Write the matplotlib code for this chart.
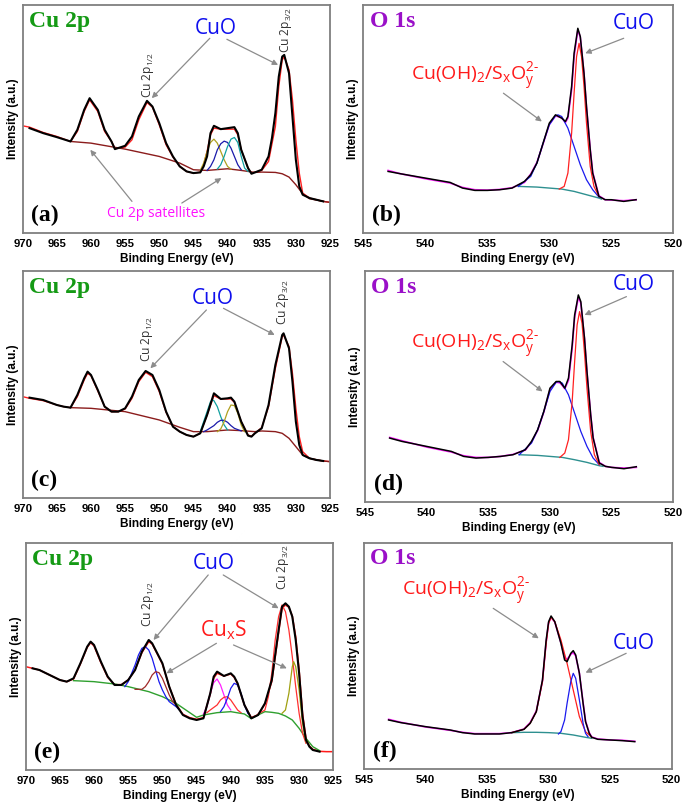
import matplotlib
matplotlib.use("Agg")
import matplotlib.pyplot as plt

plt.rcParams['mathtext.fontset'] = 'custom'
plt.rcParams['mathtext.rm'] = 'Open Sans'

# ---------------- data (intensity in arbitrary units) ----------------
# panel (a) Cu 2p
a_E = [969, 967, 965, 963, 962, 961, 960.2, 959, 958, 957, 956.5, 955, 954, 953, 951.8, 951, 950, 949,
       948, 947, 946, 945, 944, 943.5, 943, 942.5, 942, 941, 940, 939, 938.5, 938, 937, 936.5, 935, 934,
       933.5, 933, 932.5, 932, 931.7, 931, 930.5, 930, 929.5, 929, 928, 927, 926]
a_meas = [315, 300, 288, 275, 310, 370, 405, 370, 310, 275, 252, 262, 290, 350, 397, 380, 330, 270,
          230, 200, 185, 180, 182, 200, 230, 300, 322, 312, 315, 318, 300, 250, 195, 178, 190, 230,
          285, 360, 470, 530, 535, 480, 350, 220, 140, 115, 105, 100, 95]
a_fitE = [970, 969, 967, 965, 963, 962, 961, 960.2, 959, 958, 957, 956.5, 955, 954, 953, 951.8, 951, 950,
          949, 948, 947, 946, 945, 944, 943.5, 943, 942.5, 942, 941, 940, 939, 938.5, 938, 937, 936.5,
          935, 934, 933, 932.5, 932, 931.7, 931, 930.5, 930, 929.5, 929, 928, 927, 926, 925]
a_fit = [322, 318, 302, 290, 275, 305, 365, 400, 365, 305, 275, 255, 258, 280, 340, 392, 378, 325,
         265, 228, 200, 185, 180, 183, 205, 245, 295, 315, 312, 312, 312, 295, 250, 195, 180,
         188, 215, 320, 440, 520, 530, 490, 400, 280, 180, 120, 105, 100, 95, 92]
a_bgE = [963, 960, 955, 950, 947, 945, 943, 940, 938, 936, 935, 933, 932, 931, 930, 929, 928, 926, 925]
a_bg = [275, 270, 252, 230, 210, 190, 188, 193, 188, 182, 183, 182, 178, 168, 145, 118, 103, 95, 92]
a_olE = [944, 943.5, 943, 942.5, 942, 941.5, 941, 940.5, 940, 939.5]
a_ol = [188, 210, 245, 272, 282, 270, 245, 220, 200, 192]
a_blE = [943, 942.5, 942, 941.5, 941, 940.5, 940, 939.5, 939, 938.5, 938]
a_bl = [188, 200, 220, 250, 268, 276, 272, 255, 230, 205, 190]
a_teE = [941.5, 941, 940.5, 940, 939.5, 939, 938.5, 938, 937.5, 937]
a_te = [192, 205, 230, 260, 282, 287, 272, 230, 195, 185]

# panel (b) O 1s
b_E = [543, 542, 540, 538, 537, 536, 535, 534, 533, 532, 531.5, 531, 530.5, 530, 529.5, 529, 528.7,
       528.5, 528.2, 528, 527.7, 527.5, 527.2, 527, 526.7, 526.5, 526, 525.5, 525, 524, 523]
b_meas = [185, 178, 165, 152, 135, 128, 128, 130, 135, 155, 175, 210, 270, 330, 355, 345, 335,
          350, 440, 540, 615, 590, 480, 380, 250, 180, 110, 100, 100, 95, 100]
b_fit = [188, 178, 163, 150, 137, 130, 129, 131, 136, 152, 177, 212, 268, 326, 352, 346, 332,
         345, 430, 530, 610, 588, 478, 378, 252, 182, 112, 100, 99, 97, 100]
b_bgE = [532.5, 531, 530, 529, 528, 527, 526, 525.8]
b_bg = [140, 138, 135, 132, 125, 115, 105, 102]
b_blE = [532.5, 531.5, 531, 530.5, 530, 529.5, 529.3, 529, 528.5, 528, 527.5, 527, 526.5, 526]
b_bl = [140, 170, 210, 270, 325, 352, 355, 350, 315, 260, 205, 160, 130, 108]
b_rdE = [529.2, 528.8, 528.5, 528.2, 528, 527.8, 527.6, 527.4, 527.2, 527, 526.7, 526.4, 526]
b_rd = [132, 140, 180, 300, 420, 530, 570, 530, 440, 330, 200, 140, 110]

# panel (c) Cu 2p
c_E = [969, 967, 965, 964, 963, 962, 961, 960.5, 960, 959, 958, 957, 956, 955, 954, 953, 952, 951,
       950, 949, 948, 947, 946, 945, 944, 943, 942, 941, 940, 939.5, 939, 938, 937, 936.5, 936, 935,
       934, 933, 932, 931.8, 931, 930.5, 930, 929.5, 929, 928, 927, 926]
c_meas = [302, 295, 280, 275, 272, 310, 360, 380, 370, 325, 275, 260, 260, 270, 305, 355, 382, 370,
          325, 260, 215, 200, 190, 185, 195, 250, 315, 298, 300, 302, 290, 230, 188, 185, 195, 210,
          280, 400, 490, 495, 450, 350, 230, 160, 130, 120, 115, 112]
c_fitE = [970] + c_E + [925]
c_fit = [305, 300, 293, 280, 275, 272, 305, 355, 375, 368, 322, 275, 260, 260, 268, 300, 350, 378, 365,
         320, 258, 215, 200, 190, 185, 195, 250, 308, 298, 298, 298, 288, 230, 190, 186, 195, 212,
         275, 390, 485, 490, 455, 375, 270, 185, 140, 120, 115, 112, 110]
c_bgE = [963, 960, 955, 950, 947, 945, 943, 940, 938, 936, 935, 933, 932, 931, 930, 929, 928, 926, 925]
c_bg = [272, 270, 260, 235, 213, 200, 200, 205, 203, 200, 202, 200, 195, 180, 155, 130, 120, 112, 110]
c_teE = [944, 943.5, 943, 942.5, 942.2, 942, 941.5, 941, 940.5, 940]
c_te = [200, 230, 260, 290, 295, 293, 275, 245, 220, 205]
c_blE = [943.5, 943, 942, 941.5, 941, 940.5, 940, 939.5, 939, 938]
c_bl = [200, 205, 218, 228, 234, 234, 228, 218, 210, 202]
c_olE = [941.5, 941, 940.5, 940, 939.5, 939, 938.5, 938, 937.5]
c_ol = [200, 208, 230, 260, 280, 278, 255, 220, 200]

# panel (d) O 1s
d_E = [543, 542, 540, 538, 537, 536, 535, 534, 533, 532, 531.5, 531, 530.5, 530, 529.5, 529.2, 529,
       528.8, 528.5, 528.2, 528, 527.7, 527.5, 527.2, 527, 526.7, 526.5, 526, 525.5, 525, 524, 523]
d_meas = [192, 182, 167, 152, 137, 132, 134, 137, 142, 157, 182, 217, 272, 342, 362, 362, 352,
          342, 372, 472, 562, 622, 602, 492, 392, 262, 192, 117, 107, 104, 100, 106]
d_fit = [194, 184, 165, 150, 139, 134, 134, 137, 143, 156, 180, 215, 270, 338, 360, 358, 350,
         340, 365, 462, 555, 615, 598, 490, 390, 262, 194, 119, 107, 104, 102, 104]
d_bgE = [532.5, 531, 530, 529, 528, 527, 526, 525.7]
d_bg = [142, 140, 137, 134, 127, 119, 109, 107]
d_blE = [532.5, 531.5, 531, 530.5, 530, 529.5, 529.3, 529, 528.5, 528, 527.5, 527, 526.5, 526]
d_bl = [142, 177, 217, 272, 332, 360, 362, 357, 322, 267, 212, 167, 132, 112]
d_rdE = [529.2, 528.8, 528.5, 528.2, 528, 527.8, 527.6, 527.4, 527.2, 527, 526.7, 526.4, 526]
d_rd = [134, 147, 187, 302, 422, 532, 572, 537, 447, 342, 212, 142, 112]

# panel (e) Cu 2p
e_E = [969, 968, 967, 966, 965, 964, 963, 962, 961, 960.5, 960, 959, 958, 957, 956, 955, 954, 953,
       952, 951.5, 951, 950, 949, 948, 947, 946, 945, 944, 943, 942.5, 942, 941, 940, 939.5, 939,
       938, 937, 936, 935, 934, 933, 932.5, 932, 931.5, 931, 930.5, 930, 929.5, 929, 928.5, 928, 927]
e_meas = [305, 300, 290, 280, 270, 265, 275, 320, 370, 385, 375, 325, 280, 255, 255, 270, 300, 355,
          390, 380, 360, 320, 250, 195, 165, 155, 150, 155, 230, 280, 295, 282, 290, 280, 260,
          195, 155, 165, 200, 270, 420, 490, 500, 490, 460, 390, 290, 160, 90, 70, 60, 55]
e_fitE = [970] + e_E + [926, 925]
e_fit = [310, 305, 300, 290, 280, 270, 265, 273, 318, 368, 382, 372, 322, 278, 256, 256, 270, 300, 352,
         385, 378, 358, 318, 250, 197, 167, 157, 152, 157, 228, 275, 290, 282, 288, 278, 258,
         195, 157, 166, 198, 265, 412, 485, 495, 488, 462, 400, 300, 170, 95, 72, 62, 56, 55, 55]
e_bgE = [963, 960, 957, 955, 952, 950, 948, 946, 945, 944, 942, 940, 938, 937, 936, 935, 934, 933,
         932, 931, 930, 929, 928, 927]
e_bg = [268, 265, 258, 250, 235, 220, 200, 172, 158, 165, 172, 175, 168, 154, 165, 175, 173, 170,
        162, 150, 125, 95, 70, 58]
e_bl1E = [955.5, 955, 954.5, 954, 953.5, 953, 952.5, 952, 951.5, 951, 950.5, 950, 949.5, 949, 948, 947.5]
e_bl1 = [250, 265, 290, 315, 345, 365, 370, 360, 335, 300, 265, 240, 220, 205, 190, 180]
e_drE = [954, 953, 952.5, 952, 951.5, 951, 950.5, 950, 949.5, 949, 948.5, 948]
e_dr = [242, 242, 250, 265, 285, 295, 292, 275, 250, 225, 205, 195]
e_mgE = [944, 943.5, 943, 942.5, 942, 941.5, 941, 940.5, 940]
e_mg = [168, 190, 230, 262, 273, 255, 225, 195, 180]
e_rsE = [943.5, 943, 942, 941.5, 941, 940.5, 940, 939.5, 939, 938.5]
e_rs = [172, 180, 195, 210, 218, 220, 210, 195, 180, 172]
e_bl2E = [941.5, 941, 940.5, 940, 939.5, 939, 938.5, 938, 937.5]
e_bl2 = [175, 190, 215, 245, 260, 255, 230, 195, 170]
e_rmE = [936, 935, 934.5, 934, 933.5, 933, 932.5, 932, 931.5, 931, 930.5, 930, 929.5, 929]
e_rm = [168, 180, 220, 290, 390, 460, 495, 475, 420, 340, 250, 170, 110, 80]
e_olE = [932.5, 932, 931.5, 931, 930.8, 930.5, 930, 929.5, 929]
e_ol = [170, 180, 230, 310, 325, 310, 240, 140, 85]

# panel (f) O 1s
f_E = [543, 542, 540, 538, 537, 536, 535, 534, 533, 532, 531.5, 531, 530.5, 530.2, 530, 529.8, 529.5,
       529, 528.7, 528.5, 528.2, 528, 527.8, 527.5, 527.2, 527, 526.7, 526.5, 526, 525, 524, 523]
f_meas = [148, 140, 128, 118, 110, 106, 106, 106, 110, 120, 138, 173, 268, 388, 443, 460, 443,
          378, 328, 323, 348, 356, 343, 288, 198, 143, 108, 96, 90, 88, 86, 83]
f_fit = [150, 141, 127, 117, 111, 107, 107, 107, 110, 121, 140, 175, 265, 382, 440, 456, 442,
         380, 335, 330, 345, 350, 340, 288, 200, 145, 110, 97, 91, 88, 87, 84]
f_bgE = [533, 532, 531, 530, 529, 528, 527, 526.5]
f_bg = [110, 111, 111, 110, 108, 103, 96, 93]
f_rdE = [533, 532, 531.5, 531, 530.5, 530.2, 530, 529.8, 529.5, 529, 528.5, 528, 527.5, 527, 526.5]
f_rd = [110, 120, 138, 173, 263, 378, 438, 456, 443, 388, 318, 238, 158, 113, 96]
f_blE = [529.2, 529, 528.7, 528.5, 528.2, 528, 527.8, 527.5, 527.2, 527, 526.8]
f_bl = [106, 113, 148, 198, 263, 288, 273, 208, 138, 108, 98]

cu_ticks = [970, 965, 960, 955, 950, 945, 940, 935, 930, 925]
o_ticks = [545, 540, 535, 530, 525, 520]

# ---------------- figure ----------------
W, H = 685, 810
fig = plt.figure(figsize=(W / 100, H / 100), dpi=100)

FRAME = '#7f7f7f'
ARROW = '#8c8c8c'
TXT = 'Open Sans'


def make_ax(l, t, r, b, ymax, cu):
    ax = fig.add_axes([l / W, 1 - b / H, (r - l) / W, (b - t) / H])
    if cu:
        ax.set_xlim(970, 925)
        ax.set_xticks(cu_ticks)
    else:
        ax.set_xlim(545, 520)
        ax.set_xticks(o_ticks)
    ax.set_ylim(0, ymax)
    ax.set_yticks([])
    ax.tick_params(axis='x', length=0, pad=4)
    for lab in ax.get_xticklabels():
        lab.set_fontfamily('Liberation Sans')
        lab.set_fontweight('bold')
        lab.set_fontsize(8.2)
    for s in ax.spines.values():
        s.set_color(FRAME)
        s.set_linewidth(1.3)
    ax.set_xlabel('Binding Energy (eV)', family='Liberation Sans', weight='bold', fontsize=8.6, labelpad=3)
    ax.set_ylabel('Intensity (a.u.)', family='Liberation Sans', weight='bold', fontsize=8.6, labelpad=3)
    return ax


def title(ax, txt, color, letter):
    ax.text(0.02, 0.975, txt, transform=ax.transAxes, family='Liberation Serif', weight='bold',
            fontsize=17, color=color, ha='left', va='top')
    ax.text(0.028, 0.03, letter, transform=ax.transAxes, family='Liberation Serif', weight='bold',
            fontsize=17, color='black', ha='left', va='bottom')


def arrow(ax, tail, head):
    ax.annotate('', xy=head, xytext=tail,
                arrowprops=dict(arrowstyle='-|>', color=ARROW, lw=0.9, mutation_scale=8,
                                shrinkA=0, shrinkB=0))


def lab(ax, x, y, s, color, size=15, **kw):
    ax.text(x, y, s, family=TXT, color=color, fontsize=size, ha='center', va='center', **kw)


def peak_name(ax, x, y, sub):
    ax.text(x, y, 'Cu 2p$\\mathregular{_{' + sub + '}}$', family=TXT, color='#333333', fontsize=8.6,
            rotation=90, ha='center', va='bottom')


OH_LABEL = '$\\mathregular{Cu(OH)_2/S_xO_y^{2\\text{-}}}$'

# ----- (a)
ax = make_ax(22.7, 5, 330, 233, 685, True)
ax.plot(a_fitE, a_fit, color='#ff2020', lw=1.0)
ax.plot(a_bgE, a_bg, color='#8b1c1c', lw=1.0)
ax.plot(a_olE, a_ol, color='#b0a020', lw=0.9)
ax.plot(a_blE, a_bl, color='#1a1aaa', lw=0.9)
ax.plot(a_teE, a_te, color='#10a0a0', lw=0.9)
ax.plot(a_E, a_meas, color='black', lw=1.5)
title(ax, 'Cu 2p', '#159a15', '(a)')
lab(ax, 941.7, 615, 'CuO', '#1010ee')
arrow(ax, (942.6, 585), (951.1, 405))
arrow(ax, (940.1, 582), (932.6, 505))
peak_name(ax, 951.6, 405, '1/2')
peak_name(ax, 931.4, 540, '3/2')
lab(ax, 950.5, 60, 'Cu 2p satellites', '#ff10ff', size=10)
arrow(ax, (954.0, 95), (960.1, 250))
arrow(ax, (946.7, 90), (940.9, 165))

# ----- (b)
ax = make_ax(363.3, 5, 673.3, 233, 685, False)
ax.plot(b_E, b_fit, color='#ff20ff', lw=1.2)
ax.plot(b_bgE, b_bg, color='#2e9090', lw=1.0)
ax.plot(b_blE, b_bl, color='#1a1aee', lw=0.9)
ax.plot(b_rdE, b_rd, color='#ff2020', lw=0.9)
ax.plot(b_E, b_meas, color='black', lw=1.1)
title(ax, 'O 1s', '#9a10c8', '(b)')
lab(ax, 523.2, 630, 'CuO', '#1010ee')
arrow(ax, (524.0, 585), (527.1, 540))
lab(ax, 536.0, 470, OH_LABEL, '#ff1a1a', size=14)
arrow(ax, (533.7, 420), (530.6, 335))

# ----- (c)
ax = make_ax(22.7, 271, 330, 498.3, 682, True)
ax.plot(c_fitE, c_fit, color='#ff2020', lw=1.0)
ax.plot(c_bgE, c_bg, color='#8b1c1c', lw=1.0)
ax.plot(c_teE, c_te, color='#10a0a0', lw=0.9)
ax.plot(c_blE, c_bl, color='#1a1aaa', lw=0.9)
ax.plot(c_olE, c_ol, color='#b0a020', lw=0.9)
ax.plot(c_E, c_meas, color='black', lw=1.5)
title(ax, 'Cu 2p', '#159a15', '(c)')
lab(ax, 942.1, 600, 'CuO', '#1010ee')
arrow(ax, (943.1, 565), (951.3, 390))
arrow(ax, (940.6, 570), (933.1, 490))
peak_name(ax, 951.8, 410, '1/2')
peak_name(ax, 931.9, 520, '3/2')

# ----- (d)
ax = make_ax(365, 271, 673.3, 502, 694, False)
ax.plot(d_E, d_fit, color='#ff20ff', lw=1.2)
ax.plot(d_bgE, d_bg, color='#2e9090', lw=1.0)
ax.plot(d_blE, d_bl, color='#1a1aee', lw=0.9)
ax.plot(d_rdE, d_rd, color='#ff2020', lw=0.9)
ax.plot(d_E, d_meas, color='black', lw=1.1)
title(ax, 'O 1s', '#9a10c8', '(d)')
lab(ax, 523.2, 652, 'CuO', '#1010ee')
arrow(ax, (523.8, 617), (527.2, 562))
lab(ax, 536.1, 472, OH_LABEL, '#ff1a1a', size=14)
arrow(ax, (533.8, 422), (530.6, 332))

# ----- (e)
ax = make_ax(25.7, 543.3, 333.3, 770, 680, True)
ax.plot(e_fitE, e_fit, color='#ff1a1a', lw=1.1)
ax.plot(e_bgE, e_bg, color='#2fa02f', lw=1.0)
ax.plot(e_bl1E, e_bl1, color='#1a1aee', lw=0.9)
ax.plot(e_drE, e_dr, color='#a02828', lw=0.9)
ax.plot(e_mgE, e_mg, color='#ff20ff', lw=0.9)
ax.plot(e_rsE, e_rs, color='#ff3030', lw=0.9)
ax.plot(e_bl2E, e_bl2, color='#1a1aee', lw=0.9)
ax.plot(e_rmE, e_rm, color='#ff3030', lw=0.9)
ax.plot(e_olE, e_ol, color='#a0a010', lw=0.9)
ax.plot(e_E, e_meas, color='black', lw=1.5)
title(ax, 'Cu 2p', '#159a15', '(e)')
lab(ax, 942.5, 620, 'CuO', '#1010ee')
arrow(ax, (943.3, 585), (951.3, 390))
arrow(ax, (941.1, 585), (933.0, 485))
lab(ax, 941.1, 420, 'Cu$\\mathregular{_x}$S', '#ff1a1a')
arrow(ax, (942.1, 380), (949.4, 290))
arrow(ax, (939.6, 375), (931.8, 305))
peak_name(ax, 952.1, 430, '1/2')
peak_name(ax, 932.4, 540, '3/2')

# ----- (f)
ax = make_ax(364, 542.7, 671.7, 769.3, 680, False)
ax.plot(f_E, f_fit, color='#ff20ff', lw=1.2)
ax.plot(f_bgE, f_bg, color='#2e9090', lw=1.0)
ax.plot(f_rdE, f_rd, color='#ff2020', lw=0.9)
ax.plot(f_blE, f_bl, color='#1a1aee', lw=0.9)
ax.plot(f_E, f_meas, color='black', lw=1.1)
title(ax, 'O 1s', '#9a10c8', '(f)')
lab(ax, 536.7, 533, OH_LABEL, '#ff1a1a', size=14)
arrow(ax, (534.5, 483), (530.8, 393))
lab(ax, 523.1, 378, 'CuO', '#1010ee')
arrow(ax, (523.7, 348), (527.0, 290))

fig.savefig('out.png', dpi=100)
